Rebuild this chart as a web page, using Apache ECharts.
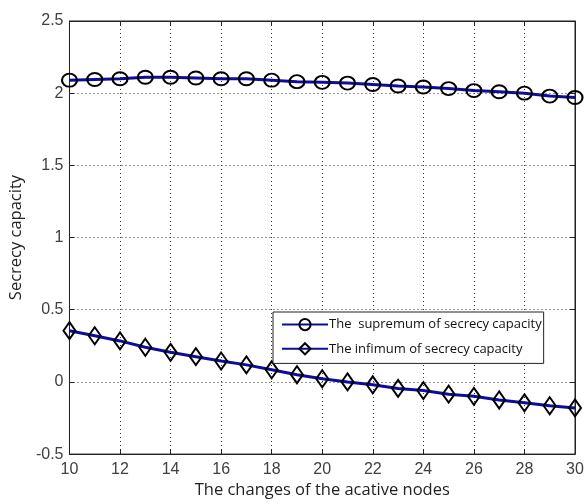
<!DOCTYPE html>
<html><head><meta charset="utf-8">
<script src="https://cdn.jsdelivr.net/npm/echarts@6/dist/echarts.min.js"></script>
<style>html,body{margin:0;padding:0;background:#fff}#c{width:587px;height:504px}</style>
</head><body><div id="c"></div>
<script>
var nodes = [10,11,12,13,14,15,16,17,18,19,20,21,22,23,24,25,26,27,28,29,30];
var supremum = [2.09,2.095,2.10,2.11,2.11,2.105,2.10,2.10,2.09,2.08,2.075,2.07,2.06,2.05,2.043,2.032,2.018,2.01,2.0,1.98,1.97];
var infimum = [0.355,0.32,0.284,0.24,0.205,0.175,0.145,0.118,0.084,0.05,0.022,0.0,-0.02,-0.045,-0.06,-0.085,-0.10,-0.125,-0.145,-0.165,-0.18];
var yTicks = {min:-0.5, max:2.5, interval:0.5};
var xTicks = {min:10, max:30, interval:2};

function pairs(v){ return nodes.map(function(x,i){ return [x, v[i]]; }); }
var lineColor = '#0d0d9c';
var chart = echarts.init(document.getElementById('c'), null, {renderer:'canvas'});
var axisFont = {fontFamily:'Liberation Sans Narrow, Arial Narrow, Liberation Sans, sans-serif', fontSize:16, color:'#404040'};
var nameFont = {fontFamily:'Open Sans, sans-serif', fontSize:16.5, color:'#222'};
var tickStyle = {show:true, inside:true, length:5, lineStyle:{color:'#222'}};
var gridLine = {show:true, lineStyle:{color:'#333', type:[1,3], width:1}};
var axisLineStyle = {show:true, onZero:false, lineStyle:{color:'#222'}};
chart.setOption({
  animation:false,
  backgroundColor:'#fff',
  grid:{left:68, right:12, top:21, bottom:46, show:true, borderColor:'#222', borderWidth:1, backgroundColor:'transparent'},
  legend:{
    left:273, top:312, orient:'vertical', itemGap:11, itemWidth:46, itemHeight:14,
    padding:[6,2,8,8],
    backgroundColor:'#fff', borderColor:'#222', borderWidth:1, borderRadius:0,
    textStyle:{fontFamily:'Open Sans, sans-serif', fontSize:13, color:'#111', padding:[0,0,0,-4]},
    data:['The  supremum of secrecy capacity','The infimum of secrecy capacity']
  },
  xAxis:[{
    type:'value', min:xTicks.min, max:xTicks.max, interval:xTicks.interval,
    name:'The changes of the acative nodes', nameLocation:'middle', nameGap:24,
    nameTextStyle:nameFont,
    axisLine:axisLineStyle,
    axisTick:tickStyle,
    axisLabel:Object.assign({margin:7}, axisFont),
    splitLine:gridLine
  },{
    type:'value', position:'top', min:xTicks.min, max:xTicks.max, interval:xTicks.interval,
    axisLine:axisLineStyle,
    axisTick:tickStyle, axisLabel:{show:false}, splitLine:{show:false}
  }],
  yAxis:[{
    type:'value', min:yTicks.min, max:yTicks.max, interval:yTicks.interval,
    name:'Secrecy capacity', nameLocation:'middle', nameGap:33,
    nameTextStyle:nameFont,
    axisLine:axisLineStyle,
    axisTick:tickStyle,
    axisLabel:Object.assign({margin:6}, axisFont),
    splitLine:gridLine
  },{
    type:'value', position:'right', min:yTicks.min, max:yTicks.max, interval:yTicks.interval,
    axisLine:axisLineStyle,
    axisTick:tickStyle, axisLabel:{show:false}, splitLine:{show:false}
  }],
  series:[
    {name:'The  supremum of secrecy capacity', type:'line', data:pairs(supremum),
     symbol:'circle', symbolSize:[15,13],
     lineStyle:{color:lineColor, width:3},
     itemStyle:{color:'rgba(255,255,255,0)', borderColor:'#000', borderWidth:2},
     z:3},
    {name:'The infimum of secrecy capacity', type:'line', data:pairs(infimum),
     symbol:'diamond', symbolSize:[12,17],
     lineStyle:{color:lineColor, width:3},
     itemStyle:{color:'rgba(255,255,255,0)', borderColor:'#000', borderWidth:2},
     z:3}
  ]
});
</script></body></html>
